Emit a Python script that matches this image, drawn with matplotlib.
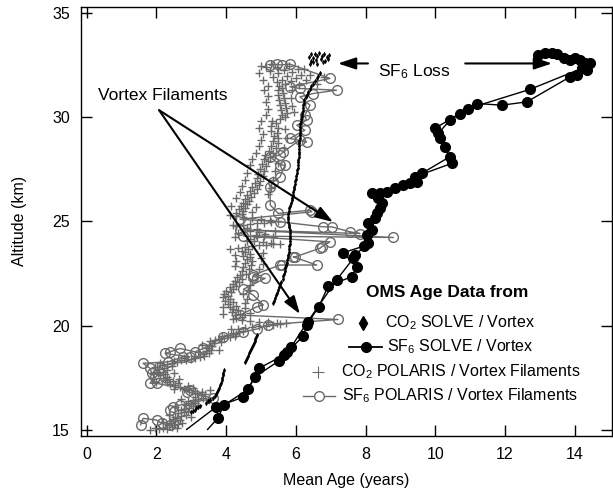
import matplotlib
matplotlib.use('Agg')
import matplotlib.pyplot as plt

plt.rcParams['font.family'] = ['Liberation Sans', 'DejaVu Sans']
plt.rcParams['mathtext.fontset'] = 'custom'
plt.rcParams['mathtext.rm'] = 'Liberation Sans'
plt.rcParams['mathtext.it'] = 'Liberation Sans'
plt.rcParams['font.size'] = 11.5

GRAY = '#6a6a6a'

# SF6 ages, SOLVE vortex profiles (two passes)
sf6_solve_a_age = [2.87, 3.71, 4.48, 4.83, 5.52, 5.75, 6.22, 6.31, 6.66, 6.93, 7.60, 7.75,
                   7.36, 7.96, 8.03, 8.08, 8.32, 8.46, 8.18, 8.85, 9.28, 9.61, 10.42, 10.14,
                   9.99, 10.71, 11.19, 11.91, 12.63, 13.87, 14.06, 14.35, 14.44, 14.16, 13.87,
                   13.49, 13.15, 12.96]
sf6_solve_a_alt = [15.03, 16.10, 16.57, 17.55, 18.32, 18.75, 19.50, 20.03, 20.91, 21.90, 22.35,
                   22.80, 23.50, 23.82, 24.34, 24.90, 25.38, 25.86, 26.34, 26.58, 26.82, 27.30,
                   28.10, 28.98, 29.46, 30.17, 30.65, 30.57, 30.73, 31.93, 32.01, 32.25, 32.57,
                   32.73, 32.73, 33.02, 33.05, 32.97]
sf6_solve_b_age = [3.47, 3.76, 3.94, 4.64, 4.94, 5.66, 5.86, 6.34, 7.17, 7.65, 7.70, 8.08, 8.18,
                   8.27, 8.42, 8.37, 8.42, 8.61, 9.08, 9.47, 9.42, 10.47, 10.28, 10.09, 10.42,
                   10.95, 12.72, 14.20, 14.30, 14.01, 13.68, 13.34]
sf6_solve_b_alt = [15.03, 15.56, 16.20, 16.95, 17.96, 18.59, 18.96, 20.19, 22.19, 23.23, 23.39,
                   23.95, 24.58, 25.14, 25.62, 26.10, 26.34, 26.42, 26.74, 26.90, 27.14, 27.78,
                   28.57, 29.22, 29.85, 30.41, 31.33, 32.33, 32.57, 32.81, 32.81, 33.05]

# CO2 ages, SOLVE vortex
co2_solve_age = [3.00, 3.05, 3.10, 3.15, 3.20, 3.25, 3.42, 3.48, 3.55, 3.62, 3.68, 3.72, 3.75,
                 3.78, 3.80, 3.82, 3.85, 3.87, 3.89, 3.90, 3.92, 3.93,
                 4.54, 4.57, 4.60, 4.63, 4.66, 4.69, 4.72, 4.75, 4.78, 4.80, 4.82, 4.84, 4.86,
                 4.88,
                 5.35, 5.38, 5.41, 5.44, 5.47, 5.50, 5.53, 5.56, 5.59, 5.62, 5.64, 5.66, 5.68,
                 5.70, 5.72, 5.74, 5.76, 5.78, 5.79, 5.80, 5.81, 5.82, 5.83, 5.83, 5.84, 5.84,
                 5.83, 5.83, 5.82, 5.80, 5.79, 5.78, 5.78, 5.79, 5.80, 5.82, 5.84, 5.86, 5.88,
                 5.90, 5.91, 5.92, 5.94, 5.95, 5.97, 5.99, 6.01, 6.02, 6.03, 6.04, 6.05, 6.06,
                 6.07, 6.07, 6.08, 6.08, 6.09, 6.09, 6.10, 6.10, 6.10, 6.11, 6.11, 6.11, 6.12,
                 6.12, 6.13, 6.14, 6.15, 6.17, 6.19, 6.20, 6.21, 6.22, 6.23, 6.25, 6.28, 6.32,
                 6.36, 6.40, 6.45, 6.50, 6.55, 6.60, 6.65, 6.70,
                 6.40, 6.45, 6.50, 6.55, 6.62, 6.68, 6.75, 6.82, 6.90, 6.95, 6.58, 6.72, 6.85,
                 6.50, 6.62, 6.78, 6.92, 6.45, 6.38]
co2_solve_alt = [15.86, 15.92, 15.98, 16.04, 16.10, 16.16, 16.30, 16.38, 16.46, 16.55, 16.64,
                 16.74, 16.84, 16.94, 17.04, 17.14, 17.26, 17.38, 17.50, 17.62, 17.74, 17.86,
                 18.27, 18.37, 18.47, 18.57, 18.67, 18.77, 18.87, 18.97, 19.07, 19.17, 19.27,
                 19.37, 19.46, 19.55,
                 21.07, 21.20, 21.33, 21.46, 21.59, 21.72, 21.85, 21.98, 22.11, 22.24, 22.37,
                 22.50, 22.63, 22.76, 22.89, 23.02, 23.15, 23.28, 23.41, 23.54, 23.67, 23.80,
                 23.93, 24.06, 24.19, 24.32, 24.45, 24.58, 24.71, 24.84, 24.97, 25.10, 25.23,
                 25.36, 25.49, 25.62, 25.75, 25.88, 26.01, 26.14, 26.27, 26.40, 26.53, 26.66,
                 26.79, 26.92, 27.05, 27.18, 27.31, 27.44, 27.57, 27.70, 27.83, 27.96, 28.09,
                 28.22, 28.35, 28.48, 28.61, 28.74, 28.87, 29.00, 29.13, 29.26, 29.39, 29.52,
                 29.65, 29.78, 29.91, 30.04, 30.17, 30.30, 30.43, 30.56, 30.69, 30.82, 30.95,
                 31.08, 31.21, 31.34, 31.47, 31.60, 31.73, 31.86, 31.99, 32.12,
                 32.55, 32.70, 32.85, 33.00, 32.92, 33.05, 32.95, 33.02, 32.88, 32.98, 32.75,
                 32.80, 32.70, 32.62, 32.55, 32.62, 32.78, 33.00, 32.90]

# CO2 ages, POLARIS vortex filaments
co2_polaris_age = [
    1.82, 1.95, 2.08, 2.20, 2.32, 2.45, 2.58, 2.35, 2.50, 2.62, 2.42, 2.55, 2.68, 2.48, 2.60,
    2.55, 2.72, 2.85, 2.62, 2.78, 2.90, 2.70, 2.80, 2.95, 3.05, 2.85, 3.00, 3.12, 2.92,
    3.05, 3.20, 3.35, 3.10, 3.28, 3.40, 3.18, 3.30, 3.12, 2.95, 2.80, 3.05, 2.68, 2.90,
    2.55, 2.40, 2.62, 2.30, 2.48, 2.25, 2.35, 2.18, 2.30, 2.10, 2.25, 2.05, 2.20, 2.32,
    2.08, 2.22, 2.02, 2.15, 2.30, 2.10, 2.45, 2.60, 2.50, 2.70, 2.85, 3.00, 2.78, 3.12,
    3.25, 3.38, 3.10, 3.35, 3.50, 3.42, 3.58, 3.45, 3.60, 3.50, 3.65, 3.55, 3.68, 3.80,
    3.95, 4.10, 4.25, 3.88, 4.05, 4.30, 4.20, 4.38, 4.48, 4.15, 4.35, 4.55, 4.75, 4.95,
    5.15, 5.35, 5.55, 5.72, 5.45, 5.20, 4.95, 4.70, 4.45, 4.20, 4.30, 4.45, 4.25, 4.40,
    4.18, 4.35, 4.20, 4.10, 4.28, 4.05, 4.20, 3.98, 4.12, 3.92, 4.05, 3.95, 4.15, 4.00,
    4.20, 4.12, 4.30, 4.20, 4.38, 4.25, 4.45, 4.32, 4.40, 4.58, 4.45, 4.65, 4.50, 4.72,
    4.55, 4.75, 4.60, 4.70, 4.50, 4.68, 4.55, 4.45, 4.62, 4.35, 4.55, 4.75, 4.95, 5.15,
    5.35, 5.55, 5.30, 5.05, 4.80, 4.60, 4.70, 4.90, 5.10, 4.85, 5.12, 4.95, 4.70, 4.90,
    4.60, 4.30, 4.50, 4.70, 4.90, 5.10, 5.30, 5.48, 5.25, 5.00, 4.75, 4.50, 4.30, 4.45,
    4.30, 4.50, 4.38, 4.55, 4.42, 4.60, 4.48, 4.65, 4.55, 4.72, 4.60, 4.80, 4.68, 4.88,
    4.75, 4.95, 4.82, 4.98, 4.88, 5.05, 4.92, 5.10, 4.98, 5.15, 5.02, 5.20, 5.08, 5.25,
    5.12, 5.35, 5.22, 5.42, 5.30, 5.48, 5.35, 5.50, 5.38, 5.45, 5.30, 5.50, 5.28, 5.42,
    5.32, 5.55, 5.70, 5.60, 5.75, 5.58, 5.72, 5.55, 5.68, 5.52, 5.66, 5.50, 5.62, 5.48,
    5.60, 5.52, 5.70, 5.45, 5.85, 5.60, 6.00, 5.35, 5.75, 6.15, 5.50, 5.90, 5.25, 5.65,
    6.05, 5.15, 5.45, 5.80, 5.30,
    # scattered readings on either side of the main band
    2.20, 2.75, 2.35, 3.00, 2.55, 3.20, 2.70, 3.50, 3.55, 2.50, 2.00, 2.65, 1.90, 2.50,
    1.95, 2.45, 3.20, 3.80, 3.30, 3.85, 3.90, 4.70, 3.90, 4.55,
    4.55, 4.60, 4.50, 4.65, 4.70, 4.75, 4.90, 4.95, 5.05, 4.25, 4.30, 4.25, 5.00, 5.05,
    4.10, 4.25, 4.35, 5.35, 5.40, 4.20, 4.10, 4.75, 4.85, 4.15,
    4.30, 4.40, 4.45, 5.20, 5.30, 4.55, 5.35, 4.60, 5.40, 4.70, 5.50, 4.75, 4.85, 5.65,
    4.95, 5.00, 5.75, 5.05, 4.95, 5.70, 5.00, 5.15, 5.95, 5.20, 5.90, 5.15, 5.85, 5.20,
    5.10, 5.90, 5.20, 6.10, 5.05, 6.30, 6.40, 4.95, 6.25, 5.00, 6.60, 6.80]
co2_polaris_alt = [
    15.02, 15.08, 15.04, 15.12, 15.06, 15.14, 15.10, 15.22, 15.26, 15.30, 15.36, 15.42,
    15.46, 15.52, 15.58, 15.64, 15.68, 15.74, 15.80, 15.86, 15.90, 15.96, 16.02, 16.08,
    16.14, 16.20, 16.26, 16.32, 16.38, 16.44, 16.50, 16.54, 16.60, 16.66, 16.72, 16.78,
    16.84, 16.88, 16.92, 16.98, 17.02, 17.06, 17.10, 17.14, 17.20, 17.24, 17.30, 17.34,
    17.38, 17.44, 17.50, 17.56, 17.62, 17.68, 17.74, 17.80, 17.86, 17.92, 17.98, 18.04,
    18.10, 18.16, 18.20, 18.22, 18.26, 18.32, 18.34, 18.38, 18.40, 18.44, 18.46, 18.50,
    18.54, 18.56, 18.64, 18.70, 18.78, 18.86, 18.94, 19.02, 19.10, 19.18, 19.26, 19.34,
    19.38, 19.42, 19.46, 19.50, 19.52, 19.56, 19.60, 19.66, 19.70, 19.76, 19.84, 19.86,
    19.90, 19.94, 19.98, 20.00, 20.04, 20.08, 20.12, 20.14, 20.18, 20.20, 20.24, 20.26,
    20.30, 20.36, 20.42, 20.50, 20.58, 20.66, 20.74, 20.82, 20.90, 20.96, 21.04, 21.12,
    21.20, 21.28, 21.36, 21.44, 21.52, 21.60, 21.68, 21.76, 21.84, 21.92, 22.00, 22.08,
    22.16, 22.24, 22.32, 22.42, 22.50, 22.60, 22.70, 22.80, 22.90, 23.00, 23.10, 23.20,
    23.28, 23.36, 23.44, 23.52, 23.60, 23.66, 23.74, 23.78, 23.82, 23.86, 23.88, 23.90,
    23.94, 23.98, 24.02, 24.04, 24.08, 24.16, 24.24, 24.30, 24.36, 24.42, 24.50, 24.56,
    24.62, 24.68, 24.76, 24.82, 24.86, 24.90, 24.94, 24.98, 25.02, 25.08, 25.12, 25.16,
    25.20, 25.26, 25.34, 25.42, 25.50, 25.58, 25.66, 25.74, 25.82, 25.90, 25.98, 26.06,
    26.16, 26.26, 26.36, 26.46, 26.56, 26.66, 26.76, 26.86, 26.96, 27.06, 27.16, 27.28,
    27.40, 27.52, 27.64, 27.76, 27.88, 27.98, 28.08, 28.18, 28.28, 28.38, 28.50, 28.62,
    28.74, 28.86, 28.98, 29.10, 29.22, 29.34, 29.46, 29.58, 29.70, 29.80, 29.90, 30.00,
    30.10, 30.20, 30.32, 30.44, 30.56, 30.68, 30.80, 30.92, 31.04, 31.16, 31.28, 31.40,
    31.50, 31.60, 31.66, 31.74, 31.80, 31.88, 31.92, 31.98, 32.04, 32.10, 32.16, 32.22,
    32.28, 32.32, 32.38, 32.42, 32.46, 32.52,
    15.40, 15.35, 15.70, 15.65, 16.10, 16.20, 16.50, 16.45, 16.90, 16.95, 17.30, 17.45,
    17.70, 17.75, 18.00, 18.05, 18.75, 18.85, 19.10, 19.20, 20.55, 20.60, 20.90, 20.85,
    21.10, 21.30, 21.50, 21.70, 21.95, 22.20, 22.45, 22.70, 22.95, 22.85, 23.10, 23.40,
    23.25, 23.50, 23.70, 24.25, 24.45, 24.25, 24.55, 24.85, 25.30, 25.45, 25.70, 25.75,
    26.10, 26.40, 26.70, 26.30, 26.60, 27.00, 27.00, 27.30, 27.40, 27.70, 27.80, 28.00,
    28.30, 28.50, 28.60, 28.90, 29.00, 29.20, 29.50, 29.45, 29.80, 30.10, 30.25, 30.40,
    30.55, 30.70, 30.90, 31.00, 31.30, 31.30, 31.50, 31.55, 31.80, 31.80, 32.00, 32.10,
    32.30, 32.45, 31.60, 31.90]

# SF6 ages, POLARIS vortex filaments
sf6_polaris_age = [1.55, 1.62, 2.01, 2.15, 2.39, 2.39, 2.48, 2.68, 3.63, 2.87, 2.96, 2.01, 1.82,
                   1.96, 1.87, 1.82, 1.62, 2.34, 2.77, 2.96, 2.25, 2.39, 2.68, 3.11, 3.35,
                   3.90, 4.50, 4.90, 5.20, 7.21, 4.40, 4.88, 5.07, 4.78, 4.50, 5.12, 4.78,
                   4.78, 5.55, 5.60, 6.60, 5.93, 5.98, 6.69, 6.74, 6.98, 4.50, 8.80, 4.40, 7.84,
                   7.56, 7.03, 6.79, 5.55, 4.40, 6.46, 6.41, 5.50, 5.27, 5.26, 5.35, 5.55, 5.69,
                   5.55, 5.26, 5.55, 5.64, 6.12, 6.31, 5.83, 6.26, 6.03, 6.31, 6.26, 6.41, 6.12,
                   6.50, 7.17, 6.12, 5.83, 6.98, 5.83, 5.60, 5.45, 5.26]
sf6_polaris_alt = [15.25, 15.56, 15.48, 15.32, 15.24, 15.96, 16.12, 16.20, 16.52, 16.84, 16.92,
                   17.24, 17.24, 17.55, 17.72, 17.96, 18.20, 18.27, 18.51, 18.51, 18.67, 18.75,
                   18.91, 18.75, 18.91,
                   19.45, 19.70, 19.85, 20.05, 20.30, 20.51, 20.91, 20.99, 21.47, 21.75, 22.27,
                   22.35, 22.43, 22.91, 22.91, 22.91, 23.30, 23.30, 23.71, 23.78, 24.02, 24.30,
                   24.23, 24.60, 24.42, 24.50, 24.74, 24.74, 24.98, 25.10, 25.46, 25.54, 25.38,
                   25.78, 26.66, 26.90, 27.14, 27.70, 27.70, 28.10, 28.18, 28.33, 28.90, 28.81,
                   28.98, 29.37, 29.61, 29.85, 30.09, 30.57, 30.97, 31.13, 31.29, 31.37, 31.45,
                   31.85, 32.54, 32.50, 32.52, 32.49]

fig = plt.figure(figsize=(6.13, 4.92), dpi=100)
ax = fig.add_axes([81 / 613, 1 - 435.7 / 492, 531 / 613, 429 / 492])

ax.plot(co2_polaris_age, co2_polaris_alt, ls='none', marker='+', ms=6, mew=1, color=GRAY)
ax.plot(sf6_polaris_age, sf6_polaris_alt, color=GRAY, lw=1, marker='o', ms=7,
        mfc='none', mec=GRAY, mew=1)
ax.plot(co2_solve_age, co2_solve_alt, ls='none', marker='d', ms=2.5, mew=0.2, color='k')
ax.plot(sf6_solve_a_age, sf6_solve_a_alt, color='k', lw=1, marker='o', ms=7, markevery=slice(1, None))
ax.plot(sf6_solve_b_age, sf6_solve_b_alt, color='k', lw=1, marker='o', ms=7, markevery=slice(1, None))

ax.set_xlim(-0.16, 15.07)
ax.set_ylim(14.73, 35.29)
ax.set_xticks(range(0, 15, 2))
ax.set_yticks(range(15, 36, 5))
ax.tick_params(direction='in', length=8, width=1, top=True, right=True, pad=8, labelsize=11.5)
for s in ax.spines.values():
    s.set_linewidth(1)
ax.set_xlabel('Mean Age (years)', labelpad=8)
ax.set_ylabel('Altitude (km)', labelpad=18)

arrow = dict(arrowstyle='-|>,head_length=0.9,head_width=0.3', color='k', lw=1.5,
             shrinkA=0, shrinkB=0, mutation_scale=12)
ax.text(0.33, 31.05, 'Vortex Filaments', va='center', ha='left', fontsize=12.5)
ax.annotate('', xy=(7.07, 24.97), xytext=(2.08, 30.33), arrowprops=arrow)
ax.annotate('', xy=(6.12, 20.56), xytext=(2.08, 30.33), arrowprops=arrow)

ax.text(8.36, 32.17, 'SF$_6$ Loss', va='center', ha='left', fontsize=12.5)
ax.annotate('', xy=(7.21, 32.57), xytext=(8.07, 32.57), arrowprops=arrow)
ax.annotate('', xy=(13.35, 32.57), xytext=(10.86, 32.57), arrowprops=arrow)

# legend drawn by hand
ax.text(10.34, 21.61, 'OMS Age Data from', ha='center', va='center', fontweight='bold',
        fontsize=12.5)
ax.plot([7.93], [20.13], ls='none', marker='d', ms=7, color='k')
ax.text(10.72, 20.13, 'CO$_2$ SOLVE / Vortex', ha='center', va='center')
ax.plot([7.53, 8.47], [18.98, 18.98], color='k', lw=1.3)
ax.plot([8.01], [18.98], marker='o', ms=7, color='k')
ax.text(10.72, 18.98, 'SF$_6$ SOLVE / Vortex', ha='center', va='center')
ax.plot([6.64], [17.78], ls='none', marker='+', ms=8, mew=0.8, color=GRAY)
ax.text(10.72, 17.78, 'CO$_2$ POLARIS / Vortex Filaments', ha='center', va='center')
ax.plot([6.21, 7.13], [16.63, 16.63], color=GRAY, lw=1)
ax.plot([6.67], [16.63], marker='o', ms=7, mfc='white', mec=GRAY, mew=1)
ax.text(10.72, 16.63, 'SF$_6$ POLARIS / Vortex Filaments', ha='center', va='center')

fig.savefig('out.png', dpi=100)
